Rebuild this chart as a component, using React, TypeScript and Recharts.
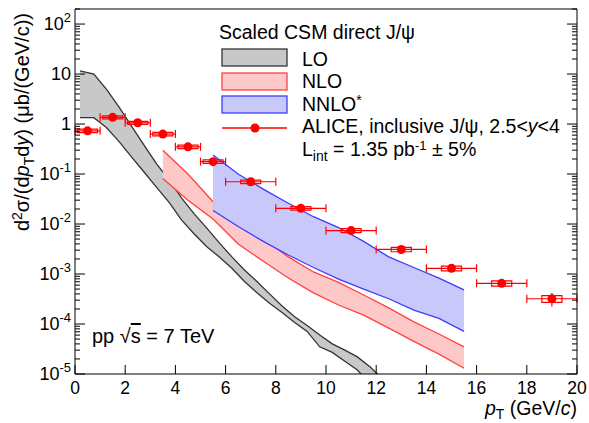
import React from 'react';
import {
  ComposedChart,
  Area,
  Scatter,
  ErrorBar,
  XAxis,
  YAxis,
  ReferenceArea,
} from 'recharts';

const FONT = '"Liberation Sans", Arial, Helvetica, sans-serif';

// ALICE inclusive J/psi, 2.5<y<4 (ub/(GeV/c))
const alicePt = [0.5, 1.5, 2.5, 3.5, 4.5, 5.5, 7, 9, 11, 13, 15, 17, 19];
const aliceBinHalf = [0.5, 0.5, 0.5, 0.5, 0.5, 0.5, 1, 1, 1, 1, 1, 1, 1];
const aliceSigma = [0.73, 1.36, 1.06, 0.63, 0.35, 0.177, 0.07, 0.0206, 0.0074, 0.0031, 0.0013, 0.00065, 0.00032];
const aliceStat = [0.03, 0.03, 0.03, 0.03, 0.03, 0.03, 0.04, 0.05, 0.06, 0.08, 0.1, 0.15, 0.3];
const aliceSyst = [0.08, 0.07, 0.07, 0.08, 0.08, 0.08, 0.08, 0.08, 0.09, 0.1, 0.11, 0.12, 0.15];
const systHalfWidth = 0.4;

// scaled CSM direct J/psi bands
const loPt = [0.2, 0.75, 1.25, 1.75, 2.25, 2.75, 3.25, 3.75, 4.25, 4.75, 5.25, 5.75, 6.25, 6.75, 7.25, 7.75, 8.25, 8.75, 9.25, 9.75, 10.25, 10.75, 11.25, 11.75, 12.25];
const loHigh = [11.6, 10, 5.0, 2.2, 0.91, 0.38, 0.16, 0.076, 0.033, 0.016, 0.0083, 0.0042, 0.0022, 0.0012, 7.1e-4, 4.0e-4, 2.3e-4, 1.4e-4, 9.3e-5, 6.0e-5, 4.0e-5, 3.0e-5, 2.2e-5, 1.4e-5, 8e-6];
const loLow = [1.34, 1.34, 0.85, 0.45, 0.22, 0.11, 0.054, 0.027, 0.012, 0.0063, 0.0035, 0.0022, 0.0013, 7.1e-4, 4.2e-4, 2.6e-4, 1.7e-4, 1.07e-4, 7.1e-5, 3.5e-5, 2.7e-5, 1.8e-5, 1.2e-5, 6.3e-6, 4e-6];

const nloPt = [3.5, 4.5, 5.5, 6.5, 7.5, 8.5, 9.5, 10.5, 11.5, 12.5, 13.5, 14.5, 15.5];
const nloHigh = [0.3, 0.1, 0.028, 0.011, 0.005, 0.0022, 0.0011, 6.8e-4, 3.8e-4, 2.1e-4, 1.1e-4, 6.3e-5, 3.5e-5];
const nloLow = [0.081, 0.03, 0.0126, 0.004, 0.0018, 8.3e-4, 4.2e-4, 2.4e-4, 1.5e-4, 8.3e-5, 4.5e-5, 2.5e-5, 1.3e-5];

const nnloPt = [5.5, 6.5, 7.5, 8.5, 9.5, 10.5, 11.5, 12.5, 13.5, 14.5, 15.5];
const nnloHigh = [0.24, 0.1, 0.05, 0.026, 0.014, 0.0085, 0.0045, 0.0022, 0.00135, 8.3e-4, 4.8e-4];
const nnloLow = [0.0186, 0.0089, 0.0045, 0.0024, 0.00135, 7.9e-4, 5.0e-4, 3.2e-4, 1.9e-4, 1.3e-4, 7.1e-5];

const xMajorTicks = [0, 2, 4, 6, 8, 10, 12, 14, 16, 18, 20];
const xMinorTicks = [0.5, 1, 1.5, 2.5, 3, 3.5, 4.5, 5, 5.5, 6.5, 7, 7.5, 8.5, 9, 9.5, 10.5, 11, 11.5, 12.5, 13, 13.5, 14.5, 15, 15.5, 16.5, 17, 17.5, 18.5, 19, 19.5];
const yMajorTicks = [1e-5, 1e-4, 1e-3, 1e-2, 1e-1, 1, 10, 100];
const yTickLabels = [['10', '-5'], ['10', '-4'], ['10', '-3'], ['10', '-2'], ['10', '-1'], ['1', ''], ['10', ''], ['10', '2']];
const yMinorTicks = [1e-5, 1e-4, 1e-3, 1e-2, 1e-1, 1, 10].flatMap((d) =>
  [2, 3, 4, 5, 6, 7, 8, 9].map((k) => k * d)
).concat([200]);

const aliceData = alicePt.map((x, i) => ({
  x,
  y: aliceSigma[i],
  ex: aliceBinHalf[i],
  ey: aliceSigma[i] * aliceStat[i],
}));
const band = (pt: number[], low: number[], high: number[]) =>
  pt.map((x, i) => ({ x, range: [low[i], high[i]] }));

// minor axes sit 1px outside the main ones, `shift` pulls them back onto the frame
const xTick = (len: number, dir: number, label: boolean, shift = 0) => (p: any) => {
  const y0 = p.y - dir * shift;
  return (
    <g>
      <line x1={p.x} x2={p.x} y1={y0} y2={y0 - dir * len} stroke='#000' />
      {label && (
        <text x={p.x} y={y0 + 20} textAnchor='middle' fontSize={17.5} fontFamily={FONT} fill='#000'>
          {p.payload.value}
        </text>
      )}
    </g>
  );
};

const yTick = (len: number, dir: number, label: boolean, shift = 0) => (p: any) => {
  const x0 = p.x + dir * shift;
  const lab = yTickLabels[yMajorTicks.indexOf(p.payload.value)];
  return (
    <g>
      <line x1={x0} x2={x0 + dir * len} y1={p.y} y2={p.y} stroke='#000' />
      {label && lab && (
        <text x={x0 - 4} y={p.y + 6} textAnchor='end' fontSize={18} fontFamily={FONT} fill='#000'>
          {lab[0]}
          {lab[1] && (
            <tspan dy={-8} fontSize={13}>
              {lab[1]}
            </tspan>
          )}
        </text>
      )}
    </g>
  );
};

const Overlay = () => (
  <svg
    width={589}
    height={423}
    style={{ position: 'absolute', left: 0, top: 0, pointerEvents: 'none' }}
    fontFamily={FONT}
  >
    <g fontSize={19.5}>
      <text x={219} y={39}>Scaled CSM direct J/ψ</text>
      <rect x={222} y={49} width={65} height={17} fill='#c8c8c8' stroke='#333' strokeWidth={1.3} />
      <text x={302} y={66}>LO</text>
      <rect x={222} y={73} width={65} height={17} fill='#ffc8c8' stroke='#ff4040' strokeWidth={1.3} />
      <text x={302} y={88}>NLO</text>
      <rect x={222} y={96} width={65} height={17} fill='#c8c8fa' stroke='#3c3cff' strokeWidth={1.3} />
      <text x={302} y={111}>
        NNLO<tspan dy={-6} fontSize={14}>*</tspan>
      </text>
      <line x1={222} x2={287} y1={128} y2={128} stroke='#f00' strokeWidth={1.3} />
      <circle cx={255} cy={128} r={4.5} fill='#f00' />
      <text x={302} y={133}>
        ALICE, inclusive J/ψ, 2.5&lt;<tspan fontStyle='italic'>y</tspan>&lt;4
      </text>
      <text x={302} y={156}>
        L<tspan dy={5} fontSize={14}>int</tspan>
        <tspan dy={-5}> = 1.35 pb</tspan>
        <tspan dy={-6} fontSize={13}>-1</tspan>
        <tspan dy={6}> ± 5%</tspan>
      </text>
    </g>
    <text x={92} y={343} fontSize={20}>
      pp  √<tspan textDecoration='overline'>s</tspan> = 7 TeV
    </text>
    <text x={577} y={415} fontSize={19.5} textAnchor='end'>
      <tspan fontStyle='italic'>p</tspan>
      <tspan dy={4} fontSize={14}>T</tspan>
      <tspan dy={-4}> (GeV/</tspan>
      <tspan fontStyle='italic'>c</tspan>)
    </text>
    <text transform='translate(29,13) rotate(-90)' fontSize={20} textAnchor='end'>
      d<tspan dy={-7} fontSize={14}>2</tspan>
      <tspan dy={7}>σ/(d</tspan>
      <tspan fontStyle='italic'>p</tspan>
      <tspan dy={5} fontSize={14}>T</tspan>
      <tspan dy={-5}>d</tspan>
      <tspan fontStyle='italic'>y</tspan>) (μb/(GeV/c))
    </text>
  </svg>
);

const common = { type: 'number' as const, allowDataOverflow: true, interval: 0 as const, tickSize: 0, tickMargin: 0, tickLine: false };

export default function App() {
  return (
    <div style={{ position: 'absolute', left: 0, top: 0, width: 589, height: 423, background: '#fff' }}>
      <ComposedChart
        width={589}
        height={423}
        margin={{ top: 7, right: 10, bottom: 47, left: 73 }}
      >
        <XAxis xAxisId='b' dataKey='x' {...common} domain={[0, 20]} height={1}
          ticks={xMajorTicks} axisLine={{ stroke: '#000' }} tick={xTick(9, 1, true)} />
        <XAxis xAxisId='bm' {...common} domain={[0, 20]} height={1}
          ticks={xMinorTicks} axisLine={false} tick={xTick(5, 1, false, 1)} />
        <XAxis xAxisId='t' orientation='top' {...common} domain={[0, 20]} height={1}
          ticks={xMajorTicks} axisLine={{ stroke: '#000' }} tick={xTick(9, -1, false)} />
        <XAxis xAxisId='tm' orientation='top' {...common} domain={[0, 20]} height={1}
          ticks={xMinorTicks} axisLine={false} tick={xTick(5, -1, false, 1)} />
        <YAxis yAxisId='l' dataKey='y' {...common} scale='log' domain={[1e-5, 200]} width={1}
          ticks={yMajorTicks} axisLine={{ stroke: '#000' }} tick={yTick(10, 1, true)} />
        <YAxis yAxisId='lm' {...common} scale='log' domain={[1e-5, 200]} width={1}
          ticks={yMinorTicks} axisLine={false} tick={yTick(5, 1, false, 1)} />
        <YAxis yAxisId='r' orientation='right' {...common} scale='log' domain={[1e-5, 200]} width={1}
          ticks={yMajorTicks} axisLine={{ stroke: '#000' }} tick={yTick(10, -1, false)} />
        <YAxis yAxisId='rm' orientation='right' {...common} scale='log' domain={[1e-5, 200]} width={1}
          ticks={yMinorTicks} axisLine={false} tick={yTick(5, -1, false, 1)} />

        <Area xAxisId='b' yAxisId='l' data={band(loPt, loLow, loHigh)} dataKey='range'
          type='linear' fill='#c8c8c8' fillOpacity={1} stroke='#333' strokeWidth={1.3}
          dot={false} activeDot={false} isAnimationActive={false} />
        <Area xAxisId='b' yAxisId='l' data={band(nloPt, nloLow, nloHigh)} dataKey='range'
          type='linear' fill='#ffc8c8' fillOpacity={1} stroke='#ff4040' strokeWidth={1.3}
          dot={false} activeDot={false} isAnimationActive={false} />
        <Area xAxisId='b' yAxisId='l' data={band(nnloPt, nnloLow, nnloHigh)} dataKey='range'
          type='linear' fill='#c8c8fa' fillOpacity={1} stroke='#3c3cff' strokeWidth={1.3}
          dot={false} activeDot={false} isAnimationActive={false} />

        {alicePt.map((x, i) => (
          <ReferenceArea key={i} xAxisId='b' yAxisId='l'
            x1={x - systHalfWidth} x2={x + systHalfWidth}
            y1={aliceSigma[i] * (1 - aliceSyst[i])} y2={aliceSigma[i] * (1 + aliceSyst[i])}
            fill='none' fillOpacity={0} stroke='#f00' strokeWidth={1.2} ifOverflow='visible' />
        ))}

        <Scatter xAxisId='b' yAxisId='l' data={aliceData} dataKey='y' isAnimationActive={false}
          shape={(p: any) => <circle cx={p.cx} cy={p.cy} r={4.5} fill='#f00' />}>
          <ErrorBar dataKey='ex' direction='x' width={4} stroke='#f00' strokeWidth={1.2} />
          <ErrorBar dataKey='ey' direction='y' width={0} stroke='#f00' strokeWidth={1.2} />
        </Scatter>
      </ComposedChart>
      <Overlay />
    </div>
  );
}
